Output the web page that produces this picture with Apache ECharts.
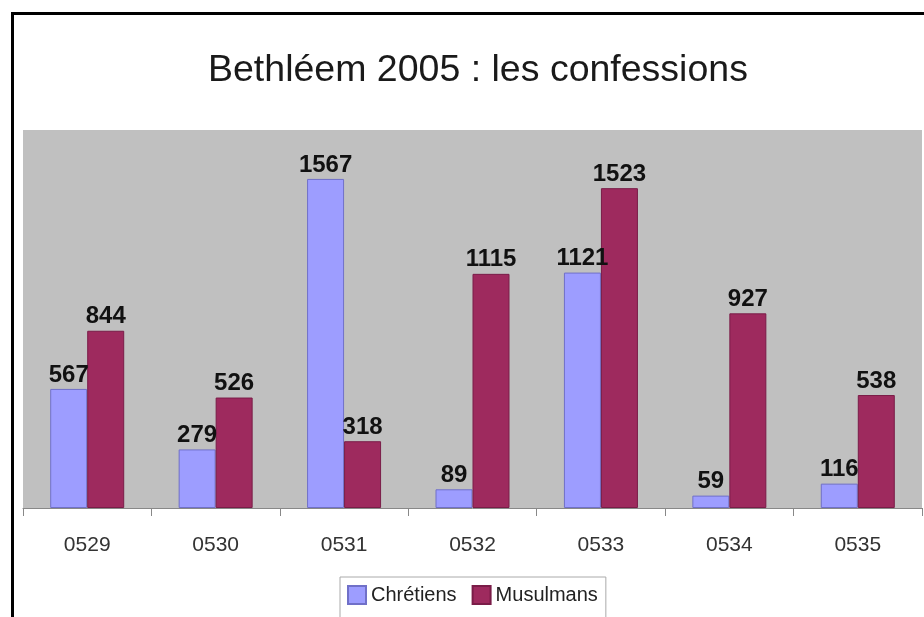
<!DOCTYPE html>
<html><head><meta charset="utf-8">
<script src="https://cdn.jsdelivr.net/npm/echarts@6/dist/echarts.min.js"></script>
<style>html,body{margin:0;padding:0;background:#fff}#c{width:924px;height:617px}</style>
</head><body><div id="c"></div>
<script>
const categories = ['0529','0530','0531','0532','0533','0534','0535'];
const chretiens = [567, 279, 1567, 89, 1121, 59, 116];
const musulmans = [844, 526, 318, 1115, 1523, 927, 538];
const seriesNames = ['Chrétiens', 'Musulmans'];

const F = '"Liberation Sans", Arial';
const chart = echarts.init(document.getElementById('c'));
const labelStyle = {show: true, position: 'top', distance: 2, fontFamily: F, fontWeight: 'bold', fontSize: 24, color: '#111'};
chart.setOption({
  animation: false,
  backgroundColor: '#fff',
  title: {text: 'Bethléem 2005 : les confessions', left: 203, top: 47,
    textStyle: {fontFamily: F, fontWeight: 'normal', fontSize: 37.5, color: '#1a1a1a'}},
  graphic: [{type: 'rect', left: 10, top: 11, shape: {width: 940, height: 700}, style: {fill: 'none', stroke: '#000', lineWidth: 3}, z: 100}],
  grid: {left: 23, right: 2, top: 130, bottom: 109, show: true, backgroundColor: '#c0c0c0', borderWidth: 0},
  legend: {top: 577, left: 340, itemWidth: 18, itemHeight: 18, itemGap: 15, padding: [8, 8, 14, 7],
    borderColor: '#aaa', borderWidth: 1, icon: 'rect',
    textStyle: {fontFamily: F, fontSize: 20, color: '#222'}, data: seriesNames},
  xAxis: {type: 'category', data: categories,
    axisLine: {lineStyle: {color: '#888'}}, axisTick: {show: true, length: 8, lineStyle: {color: '#888'}},
    axisLabel: {margin: 27, fontFamily: F, fontSize: 21, color: '#333'}},
  yAxis: {type: 'value', min: 0, max: 1800, show: false, splitLine: {show: false}},
  series: [
    {name: seriesNames[0], type: 'bar', data: chretiens, barWidth: 37, barGap: '0%',
      itemStyle: {color: '#9d9dff', borderColor: '#7070c8', borderWidth: 1}, label: labelStyle},
    {name: seriesNames[1], type: 'bar', data: musulmans, barWidth: 37,
      itemStyle: {color: '#9e2a5e', borderColor: '#7a1c48', borderWidth: 1}, label: labelStyle}
  ]
});
</script></body></html>
